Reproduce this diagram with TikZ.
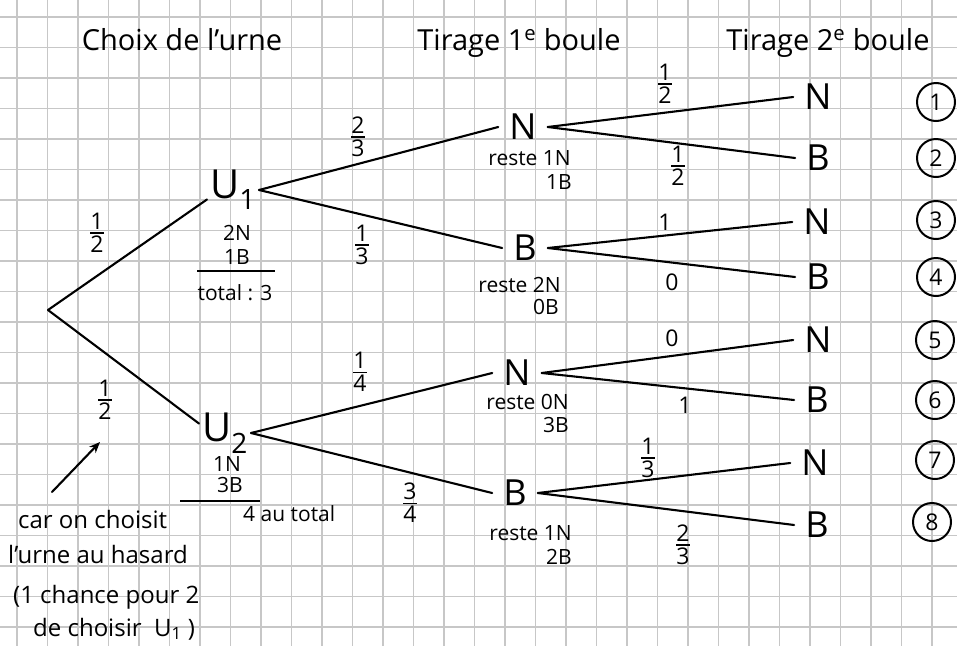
\documentclass[tikz,border=0pt]{standalone}
\usepackage{fontspec}
\setmainfont{Open Sans}
\usetikzlibrary{arrows.meta}
\newcommand\fr[2]{$\textstyle{\hbox{#1}\above 1.8pt\hbox{#2}}$}
\begin{document}
\begin{tikzpicture}[x=1pt,y=-1pt,
  gridline/.style={draw=black!22, line width=1.2pt},
  edge/.style={line width=2.1pt, line cap=round},
  bigl/.style={font=\fontsize{36}{40}\selectfont, inner xsep=11pt, inner ysep=2pt},
  urn/.style={font=\fontsize{40}{44}\selectfont, inner xsep=3pt, inner ysep=2pt},
  prob/.style={font=\fontsize{23}{25}\selectfont, inner sep=1pt},
  small/.style={font=\fontsize{21}{23}\selectfont, inner sep=1pt},
  ttl/.style={font=\fontsize{29}{32}\selectfont, anchor=base},
  num/.style={circle, draw, line width=2pt, minimum size=38pt, inner sep=0pt, font=\fontsize{23}{25}\selectfont},
  note/.style={font=\fontsize{24}{26}\selectfont, anchor=base west, inner sep=0pt}]
\useasboundingbox (0,0) rectangle (957,646);
\fill[white] (0,0) rectangle (957,646);
\foreach \i in {0,...,30} \draw[gridline] ({17+30.5*\i},0) -- ++(0,646);
\foreach \j in {0,...,20} \draw[gridline] (0,{17+30.5*\j}) -- ++(957,0);

% titles
\node[ttl] (t1) at (182,50) {Choix de l'urne};
\node[ttl] (t2) at (519,50) {Tirage 1\textsuperscript{e} boule};
\node[ttl] (t3) at (828,50) {Tirage 2\textsuperscript{e} boule};

% tree nodes
\coordinate (root) at (48,310);
\node[urn] (U1) at (233,190) {U\textsubscript{1}};
\node[urn] (U2) at (225,433) {U\textsubscript{2}};
\node[bigl] (N1) at (523,127) {N};
\node[bigl] (B1) at (525,248) {B};
\node[bigl] (N2) at (517,373) {N};
\node[bigl] (B2) at (515,493) {B};
\node[bigl] (L1) at (818,97) {N};
\node[bigl] (L2) at (818,158) {B};
\node[bigl] (L3) at (817,222) {N};
\node[bigl] (L4) at (818,277) {B};
\node[bigl] (L5) at (818,340) {N};
\node[bigl] (L6) at (817,400) {B};
\node[bigl] (L7) at (815,463) {N};
\node[bigl] (L8) at (817,525) {B};

% circled outcome numbers
\node[num] (C1) at (936,102) {1};
\node[num] (C2) at (936,158) {2};
\node[num] (C3) at (936,220) {3};
\node[num] (C4) at (936,277) {4};
\node[num] (C5) at (935,340) {5};
\node[num] (C6) at (935,400) {6};
\node[num] (C7) at (935,460) {7};
\node[num] (C8) at (932,522) {8};

% edges
\draw[edge] (root) -- (U1.200);
\draw[edge] (root) -- (U2.160);
\draw[edge] (U1.east) -- (N1.west);
\draw[edge] (U1.east) -- (B1.west);
\draw[edge] (U2.east) -- (N2.west);
\draw[edge] (U2.east) -- (B2.west);
\draw[edge] (N1.east) -- (L1.west);
\draw[edge] (N1.east) -- (L2.west);
\draw[edge] (B1.east) -- (L3.west);
\draw[edge] (B1.east) -- (L4.west);
\draw[edge] (N2.east) -- (L5.west);
\draw[edge] (N2.east) -- (L6.west);
\draw[edge] (B2.east) -- (L7.west);
\draw[edge] (B2.east) -- (L8.west);

% probabilities
\node[prob] (p1) at (97,233) {\fr{1}{2}};
\node[prob] (p2) at (105,400) {\fr{1}{2}};
\node[prob] (p3) at (358,137) {\fr{2}{3}};
\node[prob] (p4) at (362,245) {\fr{1}{3}};
\node[prob] (p5) at (360,372) {\fr{1}{4}};
\node[prob] (p6) at (410,503) {\fr{3}{4}};
\node[prob] (p7) at (665,84) {\fr{1}{2}};
\node[prob] (p8) at (678,166) {\fr{1}{2}};
\node[prob] (p9) at (665,222) {1};
\node[prob] (p10) at (672,282) {0};
\node[prob] (p11) at (672,338) {0};
\node[prob] (p12) at (685,405) {1};
\node[prob] (p13) at (648,458) {\fr{1}{3}};
\node[prob] (p14) at (683,545) {\fr{2}{3}};

% urn contents
\node[small] (u1a) at (237,233) {2N};
\node[small] (u1b) at (237,257) {1B};
\draw[line width=1.8pt] (197,271) -- (275,271);
\node[small] (u1c) at (235,293) {total : 3};
\node[small] (u2a) at (227,464) {1N};
\node[small] (u2b) at (230,485) {3B};
\draw[line width=1.8pt] (180,501) -- (260,501);
\node[small, anchor=west] (u2c) at (242,514) {4 au total};

% remaining balls
\node[small, anchor=east] (r1a) at (572,158) {reste 1N};
\node[small, anchor=east] (r1b) at (573,182) {1B};
\node[small, anchor=east] (r2a) at (562,285) {reste 2N};
\node[small, anchor=east] (r2b) at (560,307) {0B};
\node[small, anchor=east] (r3a) at (570,402) {reste 0N};
\node[small, anchor=east] (r3b) at (570,425) {3B};
\node[small, anchor=east] (r4a) at (573,533) {reste 1N};
\node[small, anchor=east] (r4b) at (573,557) {2B};

% annotation
\coordinate (a0) at (52,492);
\coordinate (a1) at (100,442);
\draw[edge, -{Stealth[length=11pt,width=9pt]}] (a0) -- (a1);
\node[note] (n1) at (18,528) {car on choisit};
\node[note] (n2) at (8,563) {l'urne au hasard};
\node[note] (n3) at (13,603) {(1 chance pour 2};
\node[note] (n4) at (33,636) {de choisir \ U\textsubscript{1} )};
\end{tikzpicture}
\end{document}
